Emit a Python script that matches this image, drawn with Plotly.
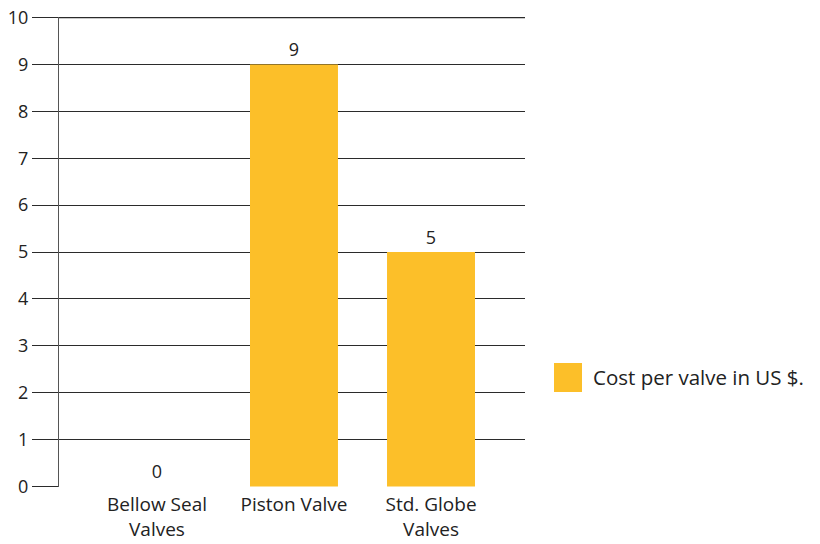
import plotly.graph_objects as go

categories = ["Bellow Seal<br>Valves", "Piston Valve", "Std. Globe<br>Valves"]
values = [0, 9, 5]
series_name = "Cost per valve in US $."
y_ticks = list(range(0, 11))

BAR = "#FCBF29"
LINE = "#2b2b2b"
FONT = "Open Sans, Lato, sans-serif"

fig = go.Figure()
fig.add_trace(go.Bar(
    x=categories, y=values, name=series_name,
    marker=dict(color=BAR, line=dict(width=0)),
    width=0.642,
    text=[str(v) for v in values], textposition="outside",
    textfont=dict(size=18, color="#222", family=FONT),
    cliponaxis=False, showlegend=False,
))

fig.update_layout(
    width=820, height=544,
    margin=dict(l=59, r=295, t=17, b=57),
    paper_bgcolor="white", plot_bgcolor="white",
    font=dict(family=FONT, size=18, color="#222"),
    showlegend=False,
    xaxis=dict(
        type="category", range=[-0.715, 2.686], automargin=False,
        showgrid=False, showline=False, ticks="", zeroline=False,
        ticklabelstandoff=4,
        tickfont=dict(size=19, color="#222", family=FONT),
    ),
    yaxis=dict(
        range=[-0.012, 10.012], tickvals=y_ticks, ticktext=[str(t) for t in y_ticks],
        automargin=False,
        showgrid=True, gridcolor=LINE, gridwidth=1.3,
        zeroline=False,
        showline=True, linecolor="#555", linewidth=1.3,
        ticks="outside", ticklen=26, tickcolor=LINE, tickwidth=1.3,
        tickfont=dict(size=18, color="#222", family=FONT),
    ),
    shapes=[
        dict(type="line", xref="paper", yref="y", x0=0, x1=1,
             y0=y_ticks[-1], y1=y_ticks[-1], line=dict(color=LINE, width=1.3)),
        dict(type="rect", xref="paper", yref="paper",
             x0=(554 - 59) / 466, x1=(582 - 59) / 466,
             y0=(487 - 392) / 470, y1=(487 - 363) / 470,
             fillcolor=BAR, line=dict(width=0)),
    ],
    annotations=[dict(text=series_name, xref="paper", yref="paper",
                      x=(591 - 59) / 466, y=(487 - 377) / 470,
                      xanchor="left", yanchor="middle", showarrow=False,
                      font=dict(size=20.5, color="#222", family=FONT))],
)

fig.write_html("out.html", config={"displayModeBar": False},
               post_script="document.body.style.margin='0';document.body.style.overflow='hidden';")
